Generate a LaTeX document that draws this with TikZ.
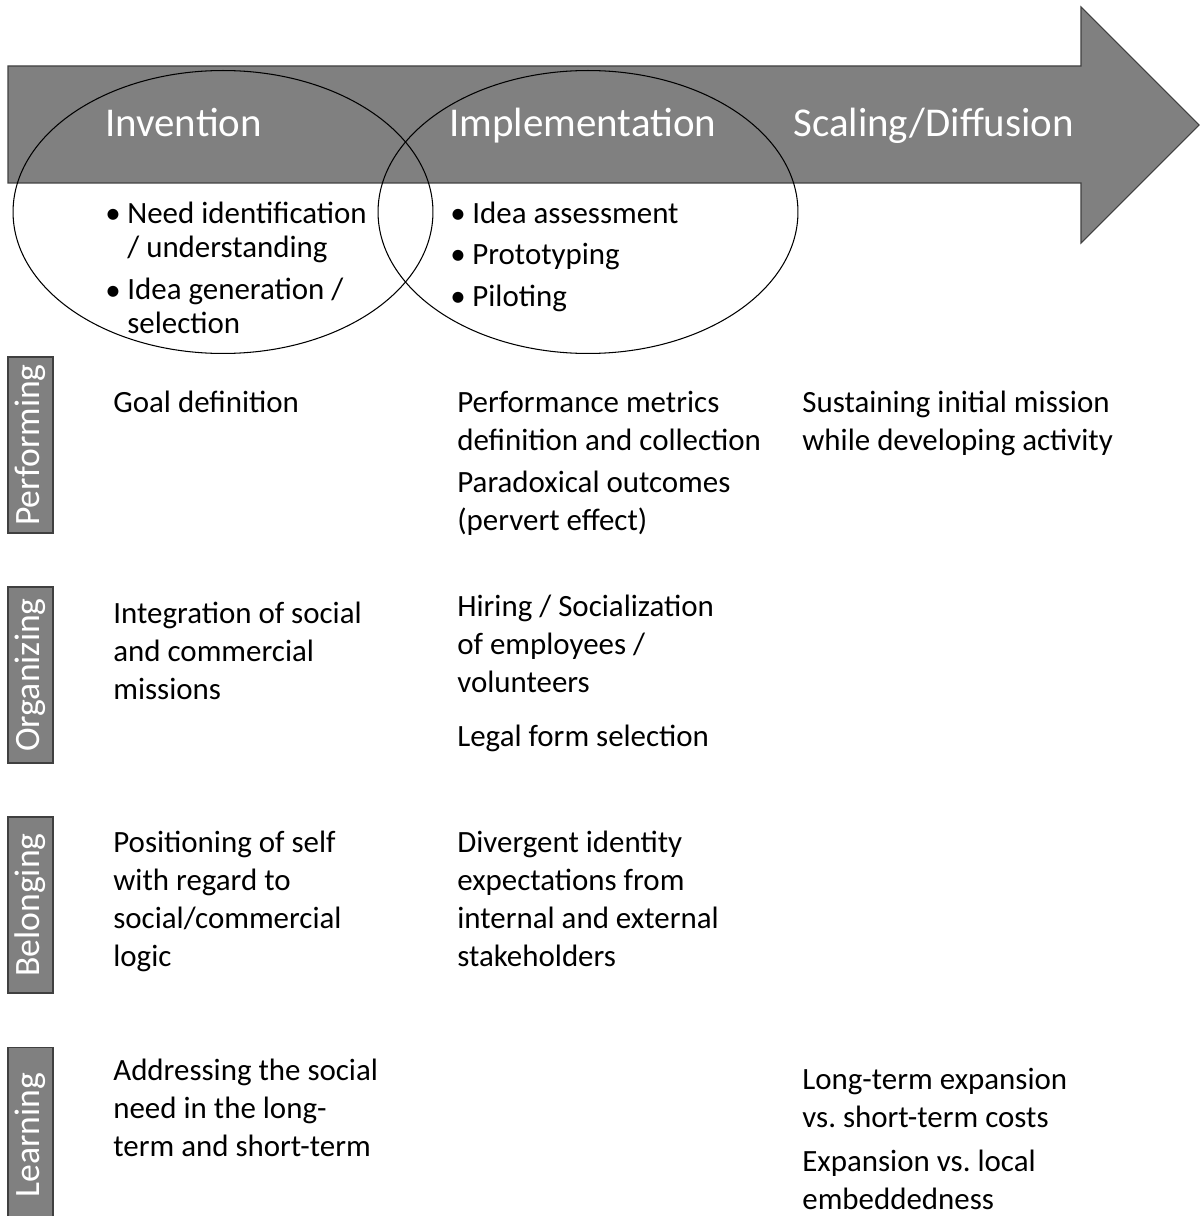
\documentclass[tikz,border=0pt]{standalone}
\usepackage{fontspec}
\setmainfont{Carlito}
\usetikzlibrary{positioning, shapes.geometric}
\frenchspacing

\definecolor{arrowgray}{HTML}{808080}
\definecolor{edgegray}{HTML}{404040}

\newcommand{\cellfont}{\fontsize{17.6pt}{21.6pt}\selectfont}
\newcommand{\itemfont}{\fontsize{17.6pt}{19.4pt}\selectfont}
\newcommand{\phasefont}{\fontsize{23.3pt}{28pt}\selectfont}
\newcommand{\dimfont}{\fontsize{20.3pt}{24pt}\selectfont}

% multi-line cells sit on the baseline of their LAST line
\tikzset{
  cell/.style={anchor=base west, inner sep=0pt, align=left, font=\cellfont},
  item/.style={anchor=base west, inner sep=0pt, align=left, font=\itemfont},
  phase/.style={anchor=base west, inner sep=0pt, text=white, font=\phasefont},
  phaseellipse/.style={ellipse, draw, line width=0.6pt, inner sep=0pt,
    minimum width=8.4cm, minimum height=5.66cm},
  dimbox/.style={rotate=90, draw=edgegray, fill=arrowgray, line width=0.6pt,
    minimum width=3.52cm, minimum height=0.9cm, inner sep=0pt,
    text=white, font=\dimfont},
}

\begin{document}
\begin{tikzpicture}[x=0.02cm, y=-0.02cm]
        \useasboundingbox (0,0) rectangle (1200,1216);

        % ===================================================
        % 1. PROCESS ARROW & PHASES
        % ===================================================
        \draw[draw=edgegray, fill=arrowgray, line width=0.6pt]
          (8,66) -- (1081,66) -- (1081,7) -- (1199,125)
          -- (1081,243) -- (1081,183) -- (8,183) -- cycle;

        \node[phaseellipse] (invEll) at (223,212) {};
        \node[phaseellipse] (implEll) at (588,212) {};

        \node[phase] (invention) at (105,137) {Invention};
        \node[phase] (implementation) at (449,137) {Implementation};
        \node[phase] (scaling) at (793,137) {Scaling/Diffusion};

        % Invention activities
        \node[item] (needDot) at (105,224) {\textbullet};
        \node[item] (need) at (127,258) {Need identification\\/ understanding};
        \node[item] (ideaDot) at (105,300) {\textbullet};
        \node[item] (idea) at (127,334) {Idea generation /\\selection};

        % Implementation activities
        \node[item] (assessDot) at (450,224) {\textbullet};
        \node[item] (assess) at (472,224) {Idea assessment};
        \node[item] (protoDot) at (450,265) {\textbullet};
        \node[item] (proto) at (472,265) {Prototyping};
        \node[item] (pilotDot) at (450,307) {\textbullet};
        \node[item] (pilot) at (472,307) {Piloting};

        % ===================================================
        % 2. TENSION DIMENSIONS (left labels)
        % ===================================================
        \node[dimbox] (performing) at (30.5,445) {Performing};
        \node[dimbox] (organizing) at (30.5,675) {Organizing};
        \node[dimbox] (belonging) at (30.5,905) {Belonging};
        \node[dimbox] (learning) at (30.5,1135) {Learning};

        % ===================================================
        % 3. TENSIONS PER PHASE
        % ===================================================

        % Performing
        \node[cell] (goalDef) at (113,412) {Goal definition};
        \node[cell] (metrics) at (457,450) {Performance metrics\\definition and collection};
        \node[cell] (paradox) at (457,530) {Paradoxical outcomes\\(pervert effect)};
        \node[cell] (sustain) at (802,450) {Sustaining initial mission\\while developing activity};

        % Organizing
        \node[cell] (integration) at (113,699) {Integration of social\\and commercial\\missions};
        \node[cell] (hiring) at (457,692) {Hiring / Socialization\\of employees /\\volunteers};
        \node[cell] (legalForm) at (457,746) {Legal form selection};

        % Belonging
        \node[cell] (positioning) at (113,966) {Positioning of self\\with regard to\\social/commercial\\logic};
        \node[cell] (divergent) at (457,966) {Divergent identity\\expectations from\\internal and external\\stakeholders};

        % Learning
        \node[cell] (socialNeed) at (113,1156) {Addressing the social\\need in the long-\\term and short-term};
        \node[cell] (longTerm) at (802,1127) {Long-term expansion\\vs. short-term costs};
        \node[cell] (embedded) at (802,1209) {Expansion vs. local\\embeddedness};

    \end{tikzpicture}
\end{document}
